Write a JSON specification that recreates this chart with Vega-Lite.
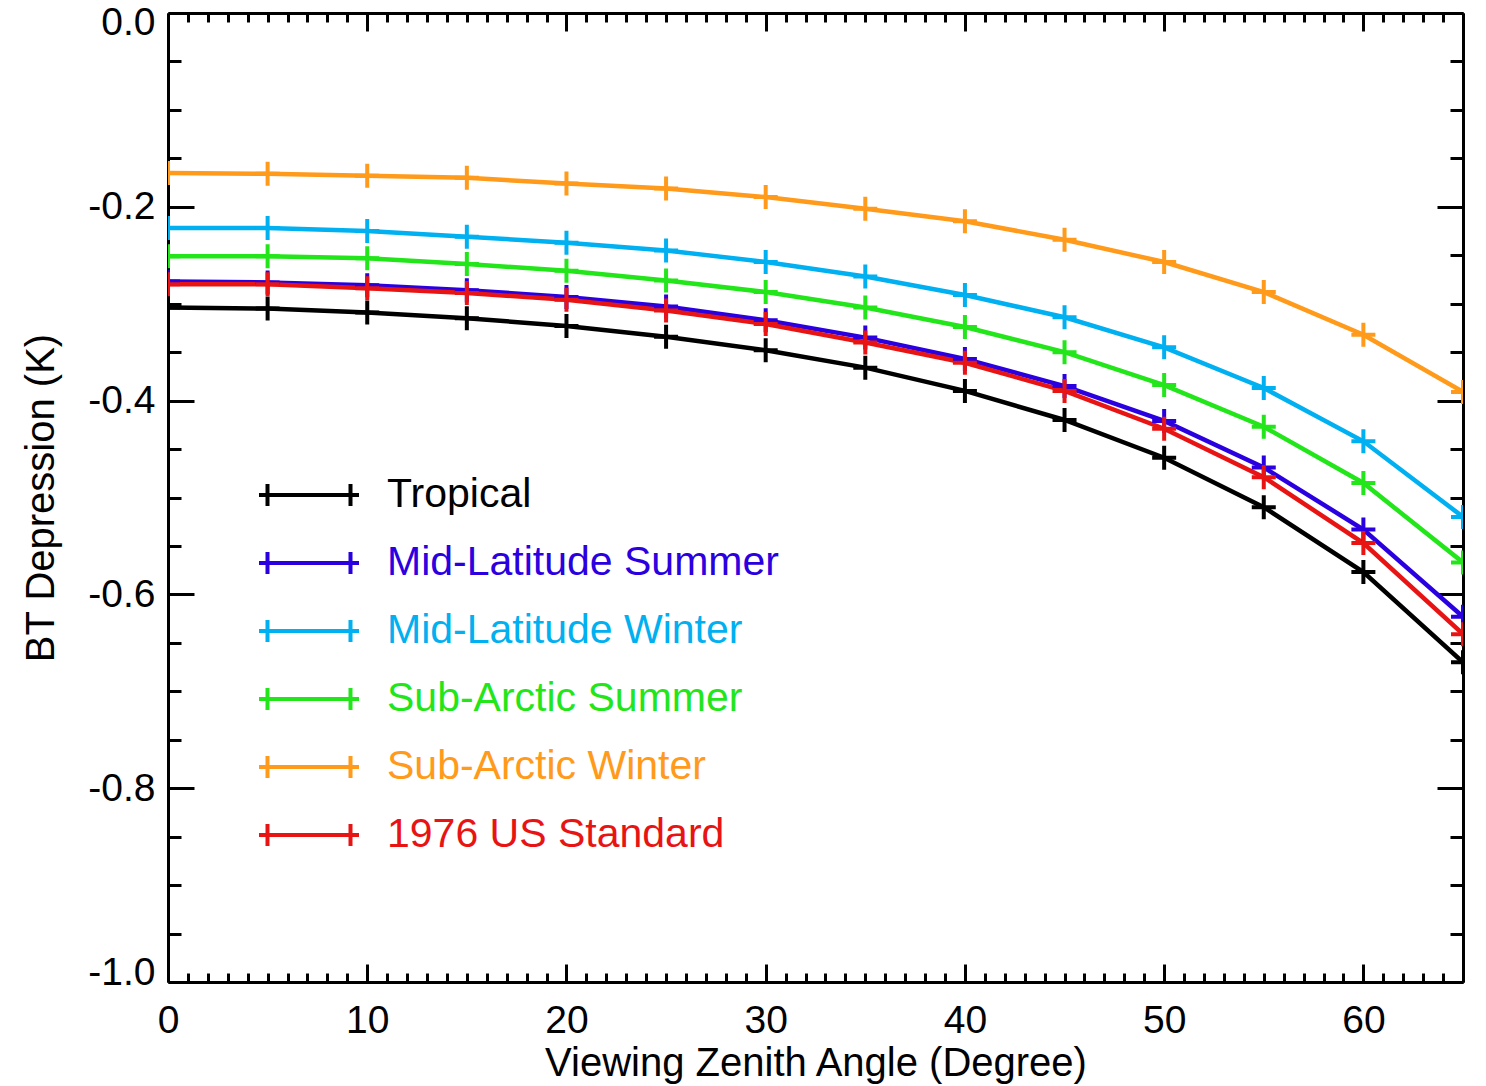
{
  "$schema": "https://vega.github.io/schema/vega-lite/v6.json",
  "width": 1295,
  "height": 969,
  "autosize": {"type": "none"},
  "padding": {"left": 168, "top": 13, "right": 23, "bottom": 104},
  "background": "white",
  "config": {
    "view": {"stroke": null},
    "font": "Liberation Sans",
    "axis": {"grid": false, "domainColor": "black", "domainWidth": 3, "tickColor": "black", "tickWidth": 3, "labelColor": "black", "titleColor": "black", "labelFont": "Liberation Sans", "titleFont": "Liberation Sans", "labelFontSize": 39, "titleFontSize": 40, "titleFontWeight": "normal", "labelOverlap": false, "labelBound": false, "labelFlush": false}
  },
  "data": {"values": [
    {"angle": 0, "bt": -0.304, "profile": "Tropical"},
    {"angle": 5, "bt": -0.305, "profile": "Tropical"},
    {"angle": 10, "bt": -0.309, "profile": "Tropical"},
    {"angle": 15, "bt": -0.315, "profile": "Tropical"},
    {"angle": 20, "bt": -0.323, "profile": "Tropical"},
    {"angle": 25, "bt": -0.334, "profile": "Tropical"},
    {"angle": 30, "bt": -0.348, "profile": "Tropical"},
    {"angle": 35, "bt": -0.366, "profile": "Tropical"},
    {"angle": 40, "bt": -0.390, "profile": "Tropical"},
    {"angle": 45, "bt": -0.420, "profile": "Tropical"},
    {"angle": 50, "bt": -0.459, "profile": "Tropical"},
    {"angle": 55, "bt": -0.510, "profile": "Tropical"},
    {"angle": 60, "bt": -0.577, "profile": "Tropical"},
    {"angle": 65, "bt": -0.670, "profile": "Tropical"},
    {"angle": 0, "bt": -0.277, "profile": "Mid-Latitude Summer"},
    {"angle": 5, "bt": -0.278, "profile": "Mid-Latitude Summer"},
    {"angle": 10, "bt": -0.281, "profile": "Mid-Latitude Summer"},
    {"angle": 15, "bt": -0.286, "profile": "Mid-Latitude Summer"},
    {"angle": 20, "bt": -0.293, "profile": "Mid-Latitude Summer"},
    {"angle": 25, "bt": -0.303, "profile": "Mid-Latitude Summer"},
    {"angle": 30, "bt": -0.317, "profile": "Mid-Latitude Summer"},
    {"angle": 35, "bt": -0.335, "profile": "Mid-Latitude Summer"},
    {"angle": 40, "bt": -0.357, "profile": "Mid-Latitude Summer"},
    {"angle": 45, "bt": -0.385, "profile": "Mid-Latitude Summer"},
    {"angle": 50, "bt": -0.421, "profile": "Mid-Latitude Summer"},
    {"angle": 55, "bt": -0.469, "profile": "Mid-Latitude Summer"},
    {"angle": 60, "bt": -0.533, "profile": "Mid-Latitude Summer"},
    {"angle": 65, "bt": -0.623, "profile": "Mid-Latitude Summer"},
    {"angle": 0, "bt": -0.222, "profile": "Mid-Latitude Winter"},
    {"angle": 5, "bt": -0.222, "profile": "Mid-Latitude Winter"},
    {"angle": 10, "bt": -0.225, "profile": "Mid-Latitude Winter"},
    {"angle": 15, "bt": -0.231, "profile": "Mid-Latitude Winter"},
    {"angle": 20, "bt": -0.237, "profile": "Mid-Latitude Winter"},
    {"angle": 25, "bt": -0.245, "profile": "Mid-Latitude Winter"},
    {"angle": 30, "bt": -0.257, "profile": "Mid-Latitude Winter"},
    {"angle": 35, "bt": -0.272, "profile": "Mid-Latitude Winter"},
    {"angle": 40, "bt": -0.291, "profile": "Mid-Latitude Winter"},
    {"angle": 45, "bt": -0.314, "profile": "Mid-Latitude Winter"},
    {"angle": 50, "bt": -0.345, "profile": "Mid-Latitude Winter"},
    {"angle": 55, "bt": -0.387, "profile": "Mid-Latitude Winter"},
    {"angle": 60, "bt": -0.442, "profile": "Mid-Latitude Winter"},
    {"angle": 65, "bt": -0.520, "profile": "Mid-Latitude Winter"},
    {"angle": 0, "bt": -0.251, "profile": "Sub-Arctic Summer"},
    {"angle": 5, "bt": -0.251, "profile": "Sub-Arctic Summer"},
    {"angle": 10, "bt": -0.253, "profile": "Sub-Arctic Summer"},
    {"angle": 15, "bt": -0.259, "profile": "Sub-Arctic Summer"},
    {"angle": 20, "bt": -0.266, "profile": "Sub-Arctic Summer"},
    {"angle": 25, "bt": -0.276, "profile": "Sub-Arctic Summer"},
    {"angle": 30, "bt": -0.288, "profile": "Sub-Arctic Summer"},
    {"angle": 35, "bt": -0.304, "profile": "Sub-Arctic Summer"},
    {"angle": 40, "bt": -0.324, "profile": "Sub-Arctic Summer"},
    {"angle": 45, "bt": -0.350, "profile": "Sub-Arctic Summer"},
    {"angle": 50, "bt": -0.384, "profile": "Sub-Arctic Summer"},
    {"angle": 55, "bt": -0.427, "profile": "Sub-Arctic Summer"},
    {"angle": 60, "bt": -0.485, "profile": "Sub-Arctic Summer"},
    {"angle": 65, "bt": -0.567, "profile": "Sub-Arctic Summer"},
    {"angle": 0, "bt": -0.165, "profile": "Sub-Arctic Winter"},
    {"angle": 5, "bt": -0.166, "profile": "Sub-Arctic Winter"},
    {"angle": 10, "bt": -0.168, "profile": "Sub-Arctic Winter"},
    {"angle": 15, "bt": -0.170, "profile": "Sub-Arctic Winter"},
    {"angle": 20, "bt": -0.176, "profile": "Sub-Arctic Winter"},
    {"angle": 25, "bt": -0.181, "profile": "Sub-Arctic Winter"},
    {"angle": 30, "bt": -0.190, "profile": "Sub-Arctic Winter"},
    {"angle": 35, "bt": -0.202, "profile": "Sub-Arctic Winter"},
    {"angle": 40, "bt": -0.215, "profile": "Sub-Arctic Winter"},
    {"angle": 45, "bt": -0.234, "profile": "Sub-Arctic Winter"},
    {"angle": 50, "bt": -0.257, "profile": "Sub-Arctic Winter"},
    {"angle": 55, "bt": -0.288, "profile": "Sub-Arctic Winter"},
    {"angle": 60, "bt": -0.332, "profile": "Sub-Arctic Winter"},
    {"angle": 65, "bt": -0.391, "profile": "Sub-Arctic Winter"},
    {"angle": 0, "bt": -0.280, "profile": "1976 US Standard"},
    {"angle": 5, "bt": -0.280, "profile": "1976 US Standard"},
    {"angle": 10, "bt": -0.284, "profile": "1976 US Standard"},
    {"angle": 15, "bt": -0.289, "profile": "1976 US Standard"},
    {"angle": 20, "bt": -0.296, "profile": "1976 US Standard"},
    {"angle": 25, "bt": -0.307, "profile": "1976 US Standard"},
    {"angle": 30, "bt": -0.321, "profile": "1976 US Standard"},
    {"angle": 35, "bt": -0.340, "profile": "1976 US Standard"},
    {"angle": 40, "bt": -0.361, "profile": "1976 US Standard"},
    {"angle": 45, "bt": -0.390, "profile": "1976 US Standard"},
    {"angle": 50, "bt": -0.429, "profile": "1976 US Standard"},
    {"angle": 55, "bt": -0.479, "profile": "1976 US Standard"},
    {"angle": 60, "bt": -0.547, "profile": "1976 US Standard"},
    {"angle": 65, "bt": -0.641, "profile": "1976 US Standard"}
  ]},
  "resolve": {"axis": {"x": "independent", "y": "independent"}},
  "layer": [
    {
      "mark": {"type": "line", "strokeWidth": 4.5, "clip": true},
      "encoding": {
        "x": {"field": "angle", "type": "quantitative", "scale": {"domain": [0, 65], "nice": false, "zero": false},
          "axis": {"orient": "bottom", "title": "Viewing Zenith Angle (Degree)", "titlePadding": -6,
            "values": [0,1,2,3,4,5,6,7,8,9,10,11,12,13,14,15,16,17,18,19,20,21,22,23,24,25,26,27,28,29,30,31,32,33,34,35,36,37,38,39,40,41,42,43,44,45,46,47,48,49,50,51,52,53,54,55,56,57,58,59,60,61,62,63,64,65],
            "labelExpr": "datum.value % 10 === 0 ? format(datum.value, 'd') : ''",
            "tickSize": {"condition": {"test": "datum.value % 10 === 0", "value": -18}, "value": -9},
            "labelPadding": 37}},
        "y": {"field": "bt", "type": "quantitative", "scale": {"domain": [-1, 0], "nice": false, "zero": false},
          "axis": {"orient": "left", "title": "BT Depression (K)", "titlePadding": 26, "labelFlush": true, "labelFlushOffset": 10,
            "values": [-1,-0.95,-0.9,-0.85,-0.8,-0.75,-0.7,-0.65,-0.6,-0.55,-0.5,-0.45,-0.4,-0.35,-0.3,-0.25,-0.2,-0.15,-0.1,-0.05,0],
            "labelExpr": "abs(datum.value*5 - round(datum.value*5)) < 0.01 ? (datum.value < -0.001 ? '-' + format(-datum.value, '.1f') : '0.0') : ''",
            "tickSize": {"condition": {"test": "abs(datum.value*5 - round(datum.value*5)) < 0.01", "value": -26}, "value": -13},
            "labelPadding": 39}},
        "color": {"field": "profile", "type": "nominal",
          "scale": {"domain": ["Tropical", "Mid-Latitude Summer", "Mid-Latitude Winter", "Sub-Arctic Summer", "Sub-Arctic Winter", "1976 US Standard"],
                    "range": ["#000000", "#2a00e0", "#00b0f0", "#22e51a", "#ff9a1a", "#e81414"]},
          "legend": {"orient": "none", "legendX": 114, "legendY": 455, "title": null, "padding": 0,
            "symbolType": "M-2,0L2,0M-1.66,-0.44L-1.66,0.44M1.66,-0.44L1.66,0.44",
            "symbolSize": 2500, "symbolStrokeWidth": 4, "symbolFillColor": "transparent",
            "labelFont": "Liberation Sans", "labelFontSize": 41, "labelOffset": 51, "rowPadding": 21, "labelLimit": 1000,
            "encode": {"labels": {"update": {"fill": {"scale": "color", "field": "value"}}}}}}
      }
    },
    {
      "mark": {"type": "point", "shape": "M-1,0L1,0M0,-1L0,1", "size": 576, "strokeWidth": 4, "filled": false, "opacity": 1, "clip": true},
      "encoding": {
        "x": {"field": "angle", "type": "quantitative", "scale": {"domain": [0, 65], "nice": false, "zero": false},
          "axis": {"orient": "top", "title": null, "labels": false,
            "values": [0,1,2,3,4,5,6,7,8,9,10,11,12,13,14,15,16,17,18,19,20,21,22,23,24,25,26,27,28,29,30,31,32,33,34,35,36,37,38,39,40,41,42,43,44,45,46,47,48,49,50,51,52,53,54,55,56,57,58,59,60,61,62,63,64,65],
            "tickSize": {"condition": {"test": "datum.value % 10 === 0", "value": -18}, "value": -9}}},
        "y": {"field": "bt", "type": "quantitative", "scale": {"domain": [-1, 0], "nice": false, "zero": false},
          "axis": {"orient": "right", "title": null, "labels": false,
            "values": [-1,-0.95,-0.9,-0.85,-0.8,-0.75,-0.7,-0.65,-0.6,-0.55,-0.5,-0.45,-0.4,-0.35,-0.3,-0.25,-0.2,-0.15,-0.1,-0.05,0],
            "tickSize": {"condition": {"test": "abs(datum.value*5 - round(datum.value*5)) < 0.01", "value": -26}, "value": -13}}},
        "color": {"field": "profile", "type": "nominal"}
      }
    }
  ]
}
